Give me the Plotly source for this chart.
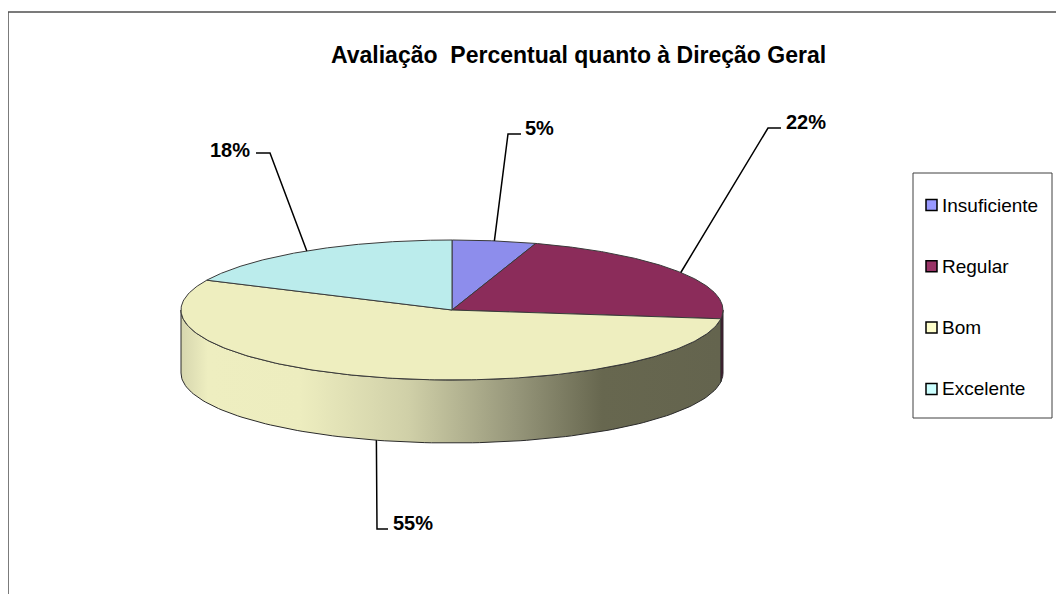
import numpy as np
import plotly.graph_objects as go

# ---- data ----
categories = ["Insuficiente", "Regular", "Bom", "Excelente"]
values = [5, 22, 55, 18]
title_text = "Avaliação  Percentual quanto à Direção Geral"

# ---- style ----
top_colors = ["#8D8DEC", "#8B2C5A", "#EEEEBF", "#BBECEC"]
legend_colors = ["#9999FF", "#993366", "#FFFFCC", "#CCFFFF"]
side_colorscales = [
    [[0, "#7070C0"], [1, "#4A4A90"]],
    [[0, "#5A1A3A"], [1, "#4A1530"]],
    [[0, "#D6D6AE"], [0.05, "#EEEEC0"], [0.22, "#EDEDBF"], [0.42, "#D0D0A8"],
     [0.62, "#96967A"], [0.78, "#67674F"], [1, "#64644E"]],
    [[0, "#9CCACA"], [1, "#7AA6A6"]],
]
FONT = "Liberation Sans, Arial, sans-serif"
W, H = 1064, 594
OFF = 8  # page body margin, so axis units equal page pixels
cx, cy, rx, ry, depth = 452, 310, 271, 70, 63
# label text positions (x, middle y) and elbow points of leader lines
label_pos = [(523, 128), (784, 122), (391, 523), (252, 150)]
label_anchor = ["left", "left", "left", "right"]
elbows = [[(508, 134), (521, 134)], [(768, 128), (781, 128)],
          [(377, 529), (388, 529)], [(270, 153), (256, 153)]]

total = float(sum(values))
fracs = np.array(values) / total
starts = np.concatenate([[0], np.cumsum(fracs)[:-1]])
ends = np.cumsum(fracs)


def pt(f, dy=0.0):
    th = np.deg2rad(90 - 360 * np.asarray(f))
    return cx + rx * np.cos(th), cy - ry * np.sin(th) + dy


fig = go.Figure()

# side walls (front half: fraction 0.25 .. 0.75)
for i in range(len(values)):
    a, b = max(starts[i], 0.25), min(ends[i], 0.75)
    if b <= a:
        continue
    f = np.linspace(a, b, 120)
    xt, yt = pt(f)
    xb, yb = pt(f[::-1], depth)
    xs = np.concatenate([xt, xb, [xt[0]]])
    ys = np.concatenate([yt, yb, [yt[0]]])
    fig.add_trace(go.Scatter(
        x=xs, y=ys, mode="lines", fill="toself",
        fillgradient=dict(type="horizontal", colorscale=side_colorscales[i]),
        line=dict(color="#2a2a2a", width=1), hoverinfo="skip", showlegend=False))

# top slices
for i in range(len(values)):
    f = np.linspace(starts[i], ends[i], 200)
    xa, ya = pt(f)
    xs = np.concatenate([[cx], xa, [cx]])
    ys = np.concatenate([[cy], ya, [cy]])
    fig.add_trace(go.Scatter(
        x=xs, y=ys, mode="lines", fill="toself", fillcolor=top_colors[i],
        line=dict(color="#3a3a3a", width=1), hoverinfo="skip",
        name=categories[i], showlegend=False))

# leader lines and labels
for i in range(len(values)):
    mid = (starts[i] + ends[i]) / 2
    ax, ay = pt(mid, depth if 0.25 < mid < 0.75 else 0)
    (ex, ey), (hx, hy) = elbows[i]
    fig.add_trace(go.Scatter(
        x=[ax, ex, hx], y=[ay, ey, hy], mode="lines",
        line=dict(color="black", width=1.5), hoverinfo="skip", showlegend=False))
    lx, ly = label_pos[i]
    fig.add_annotation(
        x=lx, y=ly, xref="x", yref="y", text=f"<b>{round(fracs[i]*100)}%</b>",
        showarrow=False, xanchor=label_anchor[i], yanchor="middle",
        font=dict(family=FONT, size=20, color="black"))

shapes = []
# outer frame
shapes.append(dict(type="rect", xref="x", yref="y", x0=8, y0=12, x1=1090, y1=620,
                   line=dict(color="#505050", width=1.5), fillcolor="rgba(0,0,0,0)"))
# legend box
shapes.append(dict(type="rect", xref="x", yref="y", x0=913, y0=173, x1=1052, y1=418,
                   line=dict(color="#404040", width=1), fillcolor="white"))
for i, c in enumerate(categories):
    yc = 205 + i * 61.3
    shapes.append(dict(type="rect", xref="x", yref="y", x0=926, x1=937,
                       y0=yc - 5.5, y1=yc + 5.5,
                       line=dict(color="black", width=1.5), fillcolor=legend_colors[i]))
    fig.add_annotation(x=940, y=yc, xref="x", yref="y", text=c, showarrow=False,
                       xanchor="left", yanchor="middle",
                       font=dict(family=FONT, size=19, color="black"))

fig.add_annotation(x=578, y=55, xref="x", yref="y", text=f"<b>{title_text}</b>",
                   showarrow=False, xanchor="center", yanchor="middle",
                   font=dict(family=FONT, size=23, color="black"))

fig.update_layout(
    width=W, height=H, margin=dict(l=0, r=0, t=0, b=0, pad=0),
    paper_bgcolor="white", plot_bgcolor="white", shapes=shapes,
    xaxis=dict(range=[OFF, W + OFF], visible=False, fixedrange=True),
    yaxis=dict(range=[H + OFF, OFF], visible=False, fixedrange=True),
    showlegend=False,
)

fig.write_html("out.html")
